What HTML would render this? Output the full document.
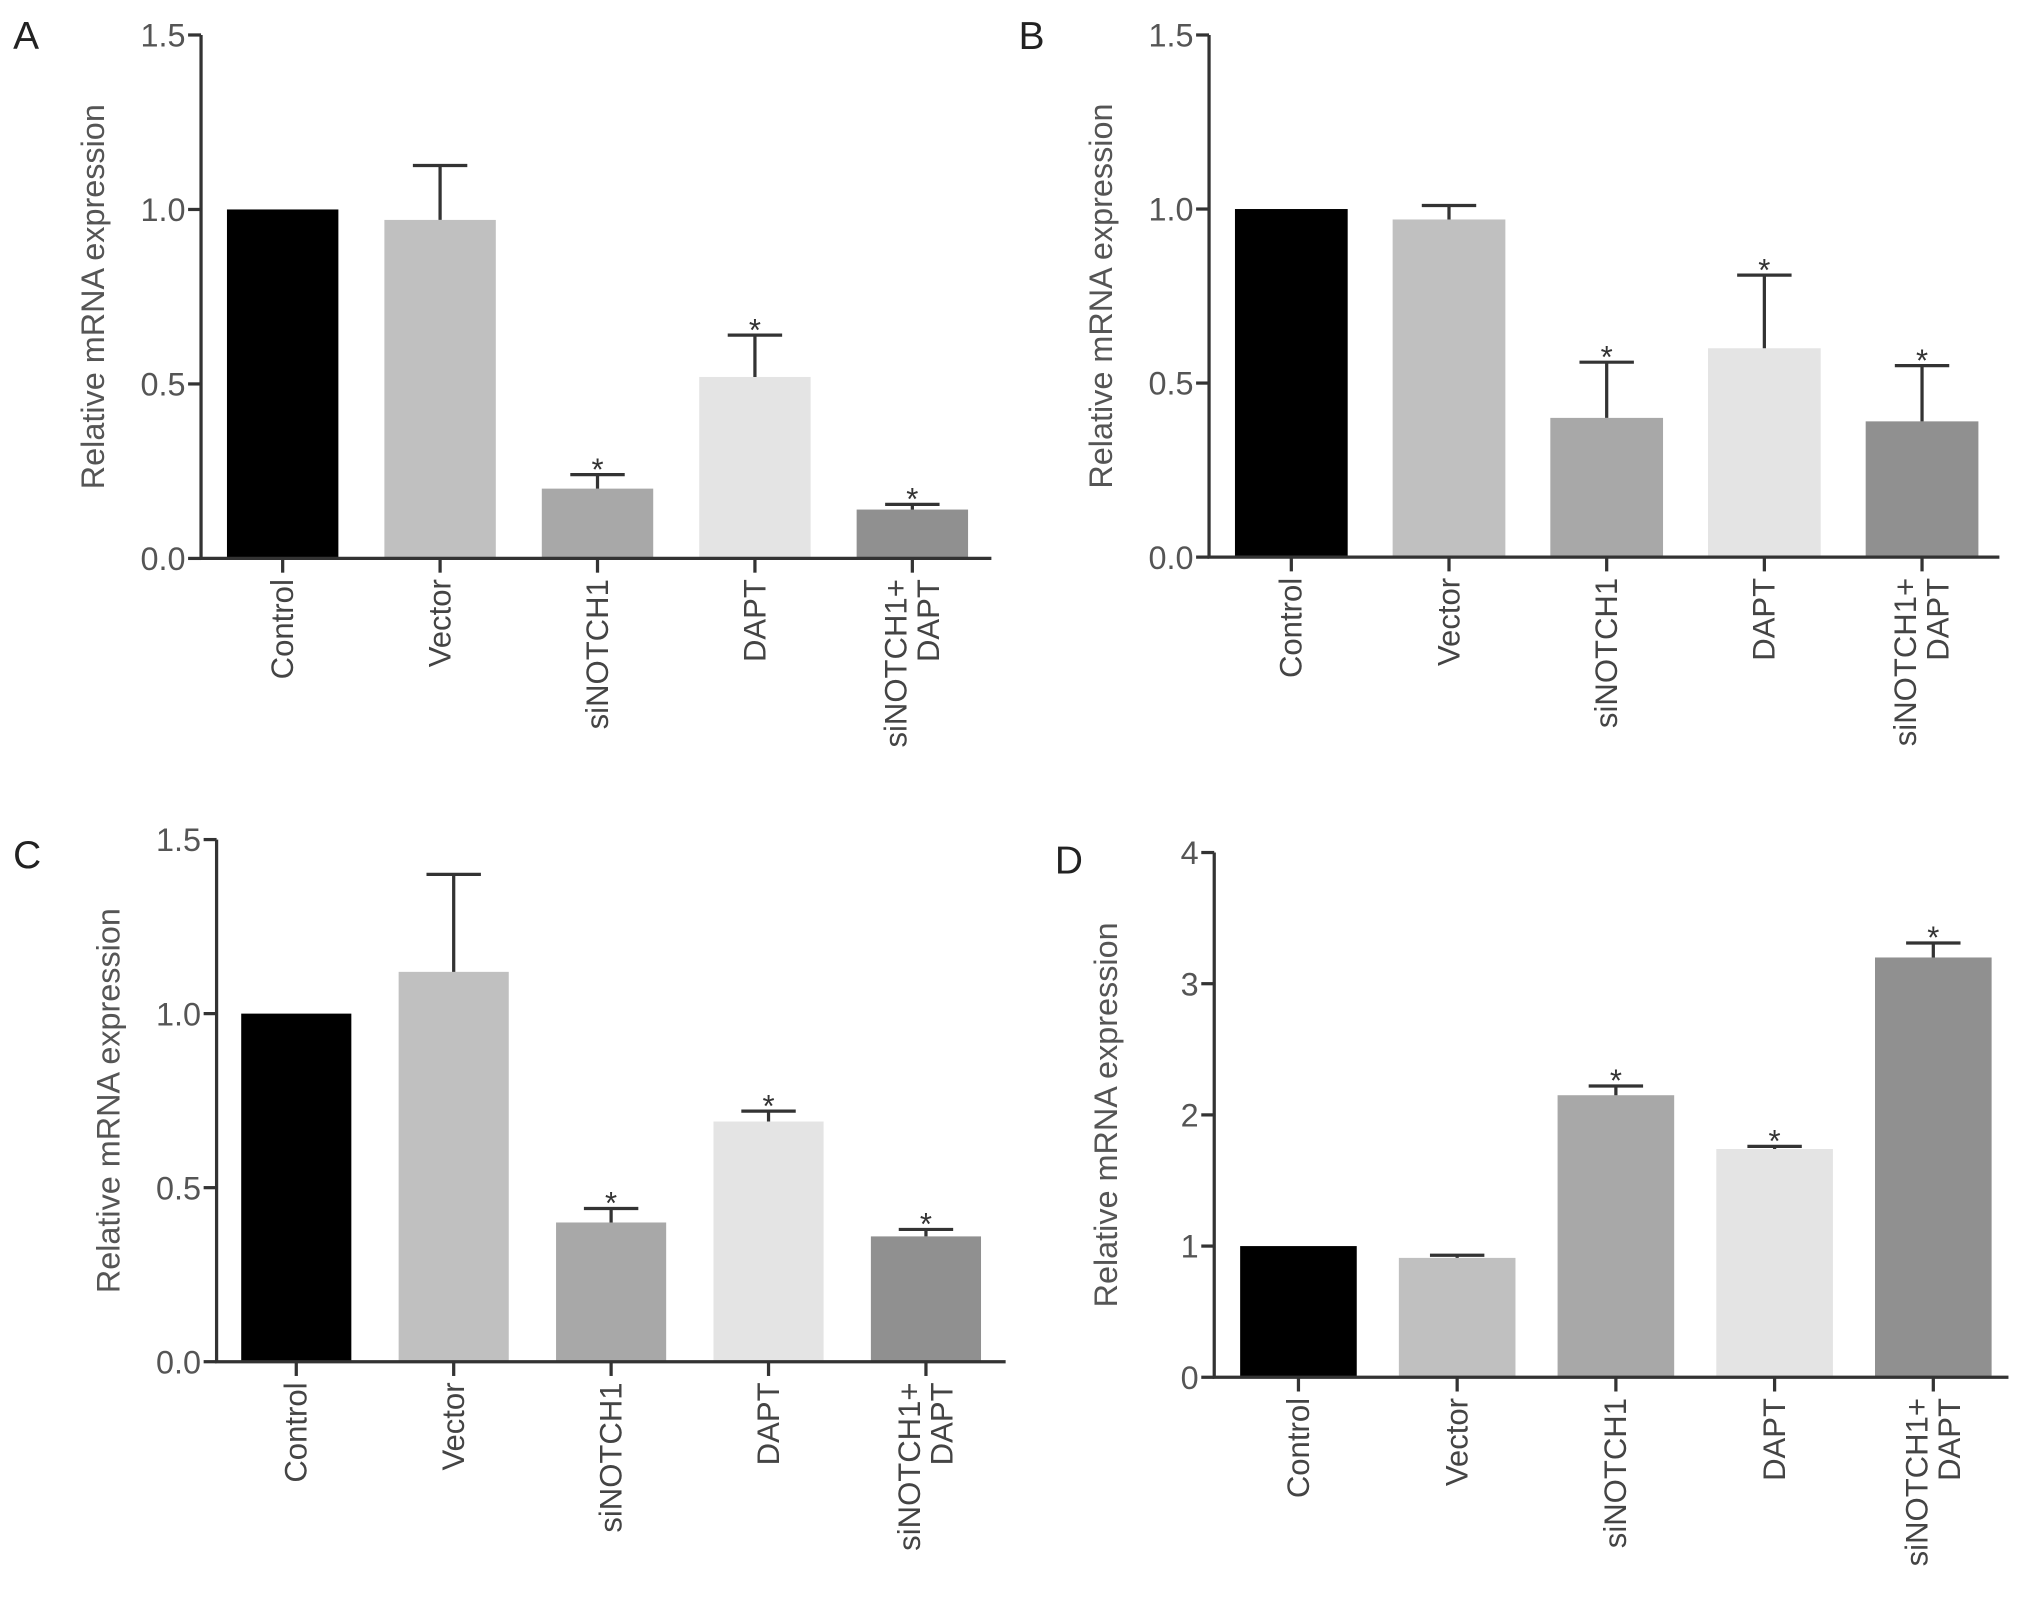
<!DOCTYPE html>
<html><head><meta charset="utf-8"><style>
html,body{margin:0;padding:0;background:#fff;}
svg{display:block;font-family:"Liberation Sans",sans-serif;}
</style></head><body>
<svg id="fig" width="2032" height="1604" viewBox="0 0 1568 1238" xmlns="http://www.w3.org/2000/svg"></svg>
<script>
const categories = ["Control","Vector","siNOTCH1","DAPT","siNOTCH1+|DAPT"];
const colors = ["#000000","#c0c0c0","#a8a8a8","#e4e4e4","#909090"];
const valuesA = [1.0, 0.97, 0.20, 0.52, 0.14];
const errorsA = [1.0, 1.126, 0.24, 0.64, 0.155];
const starsA = [0,0,1,1,1];
const valuesB = [1.0, 0.97, 0.40, 0.60, 0.39];
const errorsB = [1.0, 1.01, 0.56, 0.81, 0.55];
const starsB = [0,0,1,1,1];
const valuesC = [1.0, 1.12, 0.40, 0.69, 0.36];
const errorsC = [1.0, 1.40, 0.44, 0.72, 0.38];
const starsC = [0,0,1,1,1];
const valuesD = [1.0, 0.91, 2.15, 1.74, 3.20];
const errorsD = [1.0, 0.93, 2.22, 1.76, 3.31];
const starsD = [0,0,1,1,1];
const ticksABC = [0,0.5,1.0,1.5];
const tickLabelsABC = ["0.0","0.5","1.0","1.5"];
const ticksD = [0,1,2,3,4];
const tickLabelsD = ["0","1","2","3","4"];

const NS="http://www.w3.org/2000/svg";
const svg=document.getElementById('fig');
function mk(tag,attrs,parent,text){const e=document.createElementNS(NS,tag);for(const k in attrs)e.setAttribute(k,attrs[k]);if(text!==undefined)e.textContent=text;(parent||svg).appendChild(e);return e;}

function panel(p){
  const g=mk('g',{});
  
  
  const y=v=>p.bottom-(v/p.max)*(p.bottom-p.top);
  const lt=mk('text',{x:p.lx,y:p.ly,'font-size':30,fill:'#222'},g,p.letter);
  
  
  const yt=mk('text',{transform:`translate(${p.ax-75},${(p.top+p.bottom)/2}) rotate(-90)`,'text-anchor':'middle','font-size':25,fill:'#555'},g,'Relative mRNA expression');
  
  
  p.values.forEach((v,i)=>{
    const x0=p.bx0+i*p.step;
    const r=mk('rect',{x:x0,y:y(v),width:p.bw,height:p.bottom-y(v),fill:colors[i]},g);
    
    
    const cx=x0+p.bw/2;
    const e=p.errors[i];
    if(e>v+0.001){
      const eg=mk('path',{d:`M${cx},${y(v)}V${y(e)}M${cx-21},${y(e)}H${cx+21}`,stroke:'#333','stroke-width':2.5,fill:'none'},g);
      
      
    }
    if(p.stars[i]){
      const s=mk('text',{x:cx,y:y(e)+4,'text-anchor':'middle','font-size':24,fill:'#333'},g,'*');
      
      
    }
    mk('line',{x1:cx,x2:cx,y1:p.bottom,y2:p.bottom+11,stroke:'#333','stroke-width':2.5},g);
    const parts=categories[i].split('|');
    parts.forEach((t,k)=>{
      const off=(k-(parts.length-1)/2)*25+8;
      const tl=mk('text',{transform:`translate(${cx+off},${p.bottom+16}) rotate(-90)`,'text-anchor':'end','font-size':24,fill:'#444'},g,t);
      
      
    });
  });
  const ax=mk('path',{d:`M${p.ax},${p.top}V${p.bottom}H${p.right}`,stroke:'#333','stroke-width':2.5,fill:'none'},g);
  
  
  p.ticks.forEach((t,i)=>{
    mk('line',{x1:p.ax-10,x2:p.ax,y1:y(t),y2:y(t),stroke:'#333','stroke-width':2.5},g);
    const tl=mk('text',{x:p.ax-12,y:y(t)+9,'text-anchor':'end','font-size':25,fill:'#555'},g,p.tickLabels[i]);
    
    
  });
}
panel({letter:'A',lx:10,ly:38,ax:155,top:27,bottom:431,right:765,max:1.5,bx0:175,bw:86,step:121.5,values:valuesA,errors:errorsA,stars:starsA,ticks:ticksABC,tickLabels:tickLabelsABC});
panel({letter:'B',lx:786,ly:38,ax:933,top:27,bottom:430,right:1543,max:1.5,bx0:953,bw:87,step:121.7,values:valuesB,errors:errorsB,stars:starsB,ticks:ticksABC,tickLabels:tickLabelsABC});
panel({letter:'C',lx:10,ly:670,ax:167,top:648,bottom:1051,right:776,max:1.5,bx0:186,bw:85,step:121.5,values:valuesC,errors:errorsC,stars:starsC,ticks:ticksABC,tickLabels:tickLabelsABC});
panel({letter:'D',lx:814,ly:674,ax:937,top:658,bottom:1063,right:1550,max:4,bx0:957,bw:90,step:122.5,values:valuesD,errors:errorsD,stars:starsD,ticks:ticksD,tickLabels:tickLabelsD});
</script>
</body></html>
